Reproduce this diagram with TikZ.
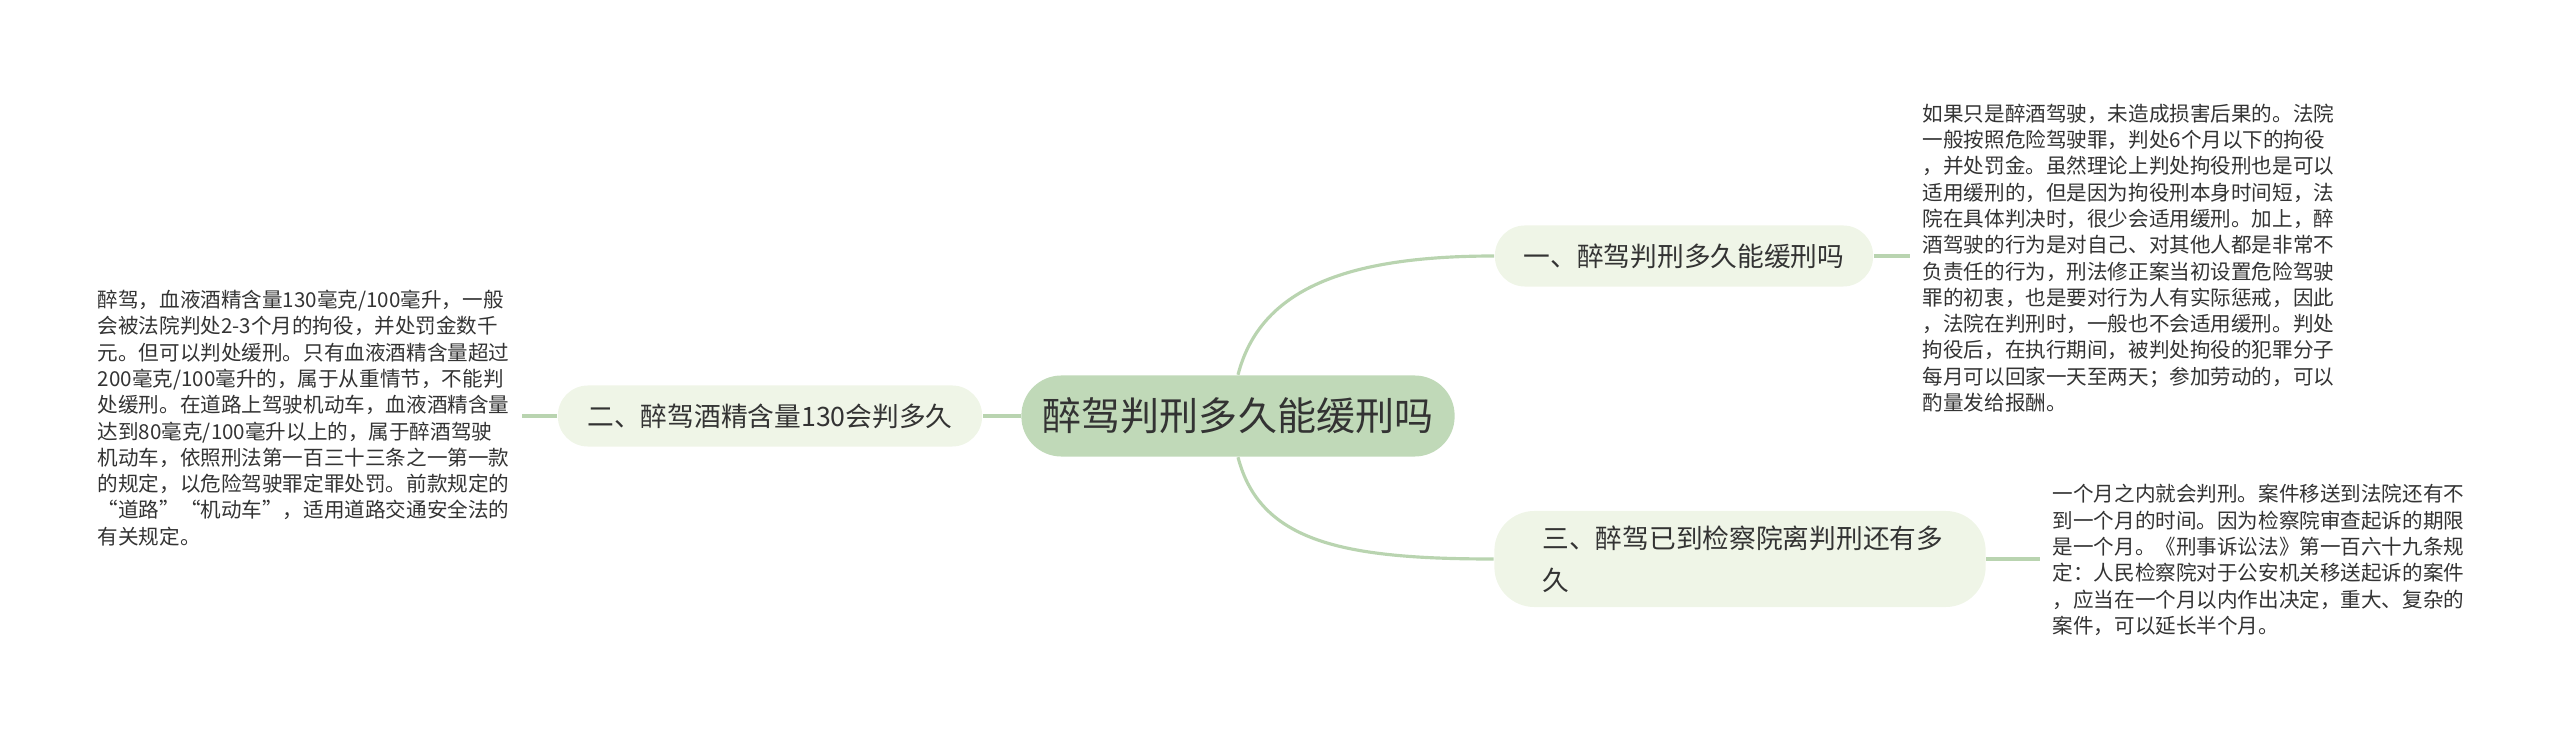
\documentclass[tikz,border=0pt]{standalone}
\usepackage{fontspec}
\newfontfamily\cjk{Noto Sans CJK SC}
\definecolor{rootfill}{HTML}{C0D9B8}
\definecolor{topicfill}{HTML}{EFF5E7}
\definecolor{linkgreen}{HTML}{B9D4B0}
\definecolor{inkgray}{HTML}{333333}
\begin{document}
\begin{tikzpicture}[x=0.01cm, y=-0.01cm,
    root/.style={fill=rootfill, rounded corners=0.4cm, minimum width=4.33cm, minimum height=0.81cm, text=inkgray, font=\cjk\fontsize{11.1}{13}\selectfont},
    topic/.style={fill=topicfill, rounded corners=0.3cm, minimum height=0.61cm, text=inkgray, font=\cjk\fontsize{7.6}{11.95}\selectfont},
    leaf/.style={align=left, inner xsep=0.12cm, inner ysep=0pt, text=inkgray, font=\cjk\fontsize{5.85}{7.48}\selectfont},
    link/.style={draw=linkgreen, line width=0.9pt}]
    \useasboundingbox (0,0) rectangle (2560,737);

    % Central topic
    \node[root] (root) at (1238,416) {醉驾判刑多久能缓刑吗};

    % Main branches
    \node[topic, minimum width=3.78cm] (t1) at (1684,256) {一、醉驾判刑多久能缓刑吗};
    \node[topic, minimum width=4.24cm] (t2) at (770,416) {二、醉驾酒精含量130会判多久};
    \node[topic, minimum height=0.96cm, rounded corners=0.4cm, align=left, text width=3.95cm, inner xsep=0.48cm] (t3) at (1740,559) {三、醉驾已到检察院离判刑还有多\\久};

    % Detail texts
    \node[leaf, anchor=west] (l1) at (1910,258) {如果只是醉酒驾驶，未造成损害后果的。法院\\
一般按照危险驾驶罪，判处6个月以下的拘役\\
，并处罚金。虽然理论上判处拘役刑也是可以\\
适用缓刑的，但是因为拘役刑本身时间短，法\\
院在具体判决时，很少会适用缓刑。加上，醉\\
酒驾驶的行为是对自己、对其他人都是非常不\\
负责任的行为，刑法修正案当初设置危险驾驶\\
罪的初衷，也是要对行为人有实际惩戒，因此\\
，法院在判刑时，一般也不会适用缓刑。判处\\
拘役后，在执行期间，被判处拘役的犯罪分子\\
每月可以回家一天至两天；参加劳动的，可以\\
酌量发给报酬。};
    \node[leaf, anchor=east] (l2) at (522,418) {醉驾，血液酒精含量130毫克/100毫升，一般\\
会被法院判处2-3个月的拘役，并处罚金数千\\
元。但可以判处缓刑。只有血液酒精含量超过\\
200毫克/100毫升的，属于从重情节，不能判\\
处缓刑。在道路上驾驶机动车，血液酒精含量\\
达到80毫克/100毫升以上的，属于醉酒驾驶\\
机动车，依照刑法第一百三十三条之一第一款\\
的规定，以危险驾驶罪定罪处罚。前款规定的\\
“道路”“机动车”，适用道路交通安全法的\\
有关规定。};
    \node[leaf, anchor=west] (l3) at (2040,560) {一个月之内就会判刑。案件移送到法院还有不\\
到一个月的时间。因为检察院审查起诉的期限\\
是一个月。《刑事诉讼法》第一百六十九条规\\
定：人民检察院对于公安机关移送起诉的案件\\
，应当在一个月以内作出决定，重大、复杂的\\
案件，可以延长半个月。};

    % Links from the centre
    \draw[link] (root.north) .. controls +(22,-85) and +(-150,0) .. (t1.west);
    \draw[link] (root.west) -- (t2.east);
    \draw[link] (root.south) .. controls +(22,85) and +(-150,0) .. (t3.west);

    % Links to the details
    \draw[link] (t1.east) -- (l1.west |- t1.east);
    \draw[link] (t2.west) -- (l2.east |- t2.west);
    \draw[link] (t3.east) -- (l3.west |- t3.east);
\end{tikzpicture}
\end{document}
